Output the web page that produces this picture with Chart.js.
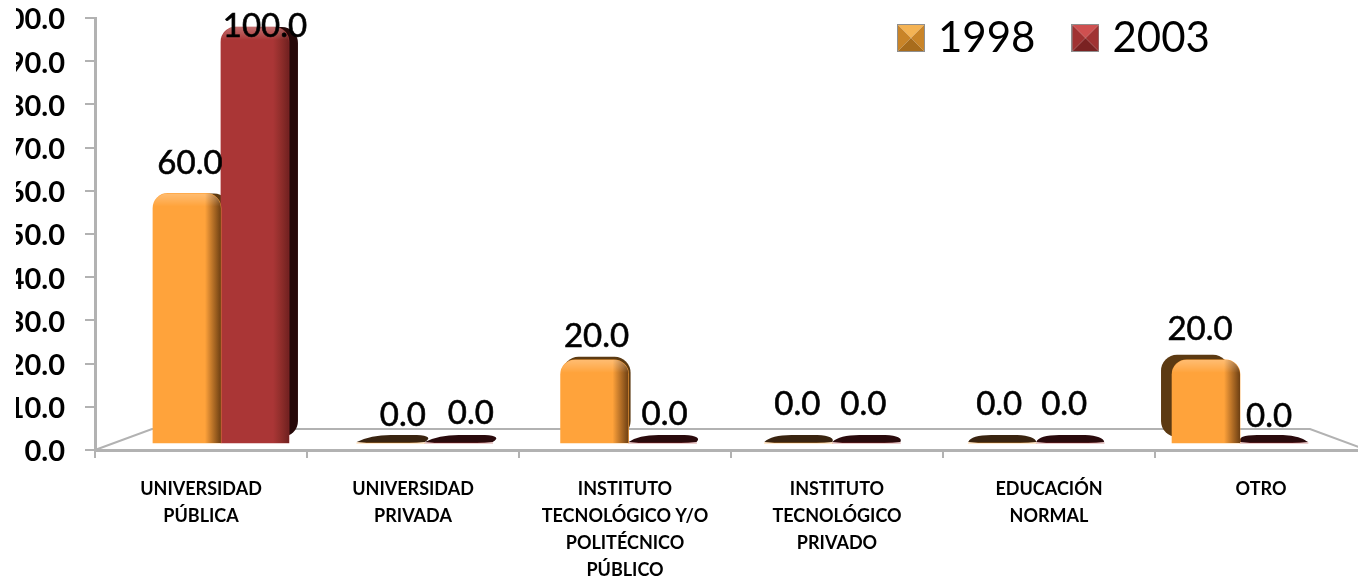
<!DOCTYPE html>
<html>
<head>
<meta charset="utf-8">
<style>
html,body{margin:0;padding:0;background:#fff;width:1358px;height:578px;overflow:hidden}
#chart{position:absolute;left:16px;top:0}
</style>
<script src="https://cdn.jsdelivr.net/npm/chart.js@4"></script>
</head>
<body>
<canvas id="chart" width="1351" height="578"></canvas>
<script>
const categorias=[
    ['UNIVERSIDAD','PÚBLICA'],
    ['UNIVERSIDAD','PRIVADA'],
    ['INSTITUTO','TECNOLÓGICO Y/O','POLITÉCNICO','PÚBLICO'],
    ['INSTITUTO','TECNOLÓGICO','PRIVADO'],
    ['EDUCACIÓN','NORMAL'],
    ['OTRO']
]
const valores1998=[60,0,20,0,0,20]
const valores2003=[100,0,0,0,0,0]
const ticksY=[0,10,20,30,40,50,60,70,80,90,100]

// desplazamiento de la cara lateral en cada grupo (perspectiva)
const lateral=[9,6,2,-1,-5,-11]
const lateralAlto=[0,0,3,0,0,5]
// ajuste de cada etiqueta respecto del tope de su barra [dx,dy]
const ajuste1998=[[3,-30],[12,-28],[2,-23],[-1,-39],[-3,-39],[-6,-30]]
const ajuste2003=[[10,-1],[12,-30],[2,-29],[-3,-39],[-6,-39],[-5,-27]]

const gris='#b2b2b2'
const fuente='Lato, "Open Sans", sans-serif'

function azulejo(claro,medio,sombra){
    // cuadro biselado de la leyenda
    const c=document.createElement('canvas')
    c.width=28
    c.height=28
    const g=c.getContext('2d')
    const tri=(col,p)=>{
        g.fillStyle=col
        g.beginPath()
        g.moveTo(p[0],p[1])
        g.lineTo(p[2],p[3])
        g.lineTo(p[4],p[5])
        g.closePath()
        g.fill()
    }
    tri(claro,[0,0,28,0,14,14])
    tri(medio,[0,0,0,28,14,14])
    tri(medio,[28,0,28,28,14,14])
    tri(sombra,[0,28,28,28,14,14])
    g.strokeStyle='#8f8f8f'
    g.strokeRect(.5,.5,27,27)
    return c
}
const cuadro1998=azulejo('#f4b354','#c98428','#a86c1c')
const cuadro2003=azulejo('#cf5050','#a03232','#7a2222')

function colorLados(ds){
    return ds===0 ? {lado:'#5c3a12',plano:'#3a2410'} : {lado:'#260909',plano:'#2a0a0c'}
}

const decoracion={
    id:'decoracion',
    beforeLayout(chart){
        // la leyenda va flotando, no debe quitar alto al area del grafico
        const l=chart.legend
        if(!l.fitOriginal){
            l.fitOriginal=l.fit
            l.fit=function(){
                this.fitOriginal()
                this.height=0
            }
        }
    },
    beforeDraw(chart){
        const l=chart.legend
        l.left=845
        l.right=1340
        l.top=-27
        l.bottom=80
    },
    beforeDatasetsDraw(chart){
        const ctx=chart.ctx
        const a=chart.chartArea
        // piso de la perspectiva
        ctx.save()
        ctx.strokeStyle=gris
        ctx.lineWidth=2
        ctx.beginPath()
        ctx.moveTo(a.left,a.bottom)
        ctx.lineTo(a.left+57,a.bottom-21)
        ctx.lineTo(a.right-57,a.bottom-21)
        ctx.lineTo(a.right,a.bottom)
        ctx.stroke()

        chart.data.datasets.forEach((d,ds)=>{
            const col=colorLados(ds)
            chart.getDatasetMeta(ds).data.forEach((b,i)=>{
                const izq=b.x-b.width/2
                const s=lateral[i]
                if(d.data[i].y===0){
                    // barra en cero: queda una losa plana
                    const der=izq+b.width
                    ctx.fillStyle=col.plano
                    ctx.beginPath()
                    ctx.moveTo(izq,b.y-1)
                    ctx.quadraticCurveTo(izq+s+8,b.y-8,izq+s+28,b.y-8)
                    ctx.lineTo(der+s-14,b.y-8)
                    ctx.quadraticCurveTo(der+s+4,b.y-7,der,b.y-1)
                    ctx.quadraticCurveTo(der-8,b.y,der-16,b.y)
                    ctx.lineTo(izq+10,b.y)
                    ctx.closePath()
                    ctx.fill()
                }else{
                    const alto=lateralAlto[i]
                    ctx.fillStyle=col.lado
                    ctx.beginPath()
                    ctx.roundRect(izq+s,b.y-alto,b.width,b.base-b.y+alto-6,16)
                    ctx.fill()
                }
            })
        })
        ctx.restore()
    },
    afterDatasetsDraw(chart){
        const ctx=chart.ctx
        chart.data.datasets.forEach((d,ds)=>{
            const aj=ds===0 ? ajuste1998 : ajuste2003
            chart.getDatasetMeta(ds).data.forEach((b,i)=>{
                const izq=b.x-b.width/2
                const v=d.data[i].y
                if(v>0){
                    ctx.save()
                    ctx.beginPath()
                    ctx.roundRect(izq,b.y,b.width,b.base-b.y,[15,15,0,0])
                    ctx.clip()
                    // sombra del borde derecho
                    const sr=ctx.createLinearGradient(izq+b.width-16,0,izq+b.width,0)
                    sr.addColorStop(0,'rgba(60,25,5,0)')
                    sr.addColorStop(1,ds===0 ? 'rgba(60,30,5,.75)' : 'rgba(40,5,5,.45)')
                    ctx.fillStyle=sr
                    ctx.fillRect(izq+b.width-16,b.y,16,b.base-b.y)
                    // brillo superior
                    const st=ctx.createLinearGradient(0,b.y,0,b.y+13)
                    st.addColorStop(0,'rgba(255,255,255,.28)')
                    st.addColorStop(.6,'rgba(255,255,255,.12)')
                    st.addColorStop(1,'rgba(255,255,255,0)')
                    ctx.fillStyle=st
                    ctx.fillRect(izq,b.y,b.width,13)
                    ctx.restore()
                }
                ctx.save()
                ctx.font='33px '+fuente
                ctx.fillStyle='#000'
                ctx.strokeStyle='#000'
                ctx.lineWidth=.6
                ctx.textAlign='center'
                ctx.textBaseline='middle'
                ctx.fillText(v.toFixed(1),b.x+aj[i][0],b.y+aj[i][1])
                ctx.strokeText(v.toFixed(1),b.x+aj[i][0],b.y+aj[i][1])
                ctx.restore()
            })
        })
    }
}

new Chart(document.getElementById('chart'),{
    type:'bar',
    data:{
        labels:categorias,
        datasets:[{
            label:'1998',
            data:valores1998.map((v,i)=>({x:i,y:v})),
            backgroundColor:'#ffa33b',
            xAxisID:'xb',
            yAxisID:'yb',
            barThickness:68,
            borderRadius:{topLeft:15,topRight:15}
        },{
            label:'2003',
            data:valores2003.map((v,i)=>({x:i,y:v})),
            backgroundColor:'#aa3636',
            xAxisID:'xb',
            yAxisID:'yb',
            barThickness:68,
            borderRadius:{topLeft:15,topRight:15}
        }]
    },
    options:{
        responsive:false,
        animation:false,
        layout:{autoPadding:false,padding:{top:18,left:0,right:0,bottom:0}},
        scales:{
            x:{
                type:'category',
                offset:true,
                afterFit(s){
                    s.height=128
                    s.paddingLeft=0
                    s.paddingRight=0
                },
                border:{color:gris,width:3},
                grid:{offset:true,drawOnChartArea:false,color:gris,lineWidth:2,tickLength:8},
                ticks:{
                    maxRotation:0,
                    autoSkip:false,
                    padding:18,
                    color:'#000',
                    font:{family:fuente,size:18,weight:'bold',lineHeight:1.5}
                }
            },
            y:{
                type:'linear',
                position:'left',
                min:0,
                max:100,
                afterFit(s){
                    s.width=79
                    s.paddingTop=0
                    s.paddingBottom=0
                },
                afterBuildTicks(s){s.ticks=ticksY.map(v=>({value:v}))},
                border:{color:gris,width:3},
                grid:{drawOnChartArea:false,color:gris,lineWidth:2,tickLength:10},
                ticks:{
                    padding:20,
                    labelOffset:2,
                    color:'#000',
                    font:{family:fuente,size:29,weight:'bold'},
                    callback:v=>v.toFixed(1)
                }
            },
            // ejes ocultos: las barras estan sobre el plano del fondo, no sobre el eje visible
            xb:{type:'linear',display:false,offset:false,min:-0.618,max:5.623},
            yb:{type:'linear',display:false,min:-1.68,max:102.16}
        },
        plugins:{
            tooltip:{enabled:false},
            legend:{
                position:'top',
                align:'start',
                labels:{
                    usePointStyle:true,
                    pointStyleWidth:12,
                    boxHeight:28,
                    padding:44,
                    color:'#000',
                    font:{family:fuente,size:42},
                    generateLabels(){
                        return [
                            {text:'1998',pointStyle:cuadro1998,fillStyle:'#ffa33b',lineWidth:0,datasetIndex:0},
                            {text:'2003',pointStyle:cuadro2003,fillStyle:'#aa3636',lineWidth:0,datasetIndex:1}
                        ]
                    }
                }
            }
        }
    },
    plugins:[decoracion]
})
</script>
</body>
</html>
